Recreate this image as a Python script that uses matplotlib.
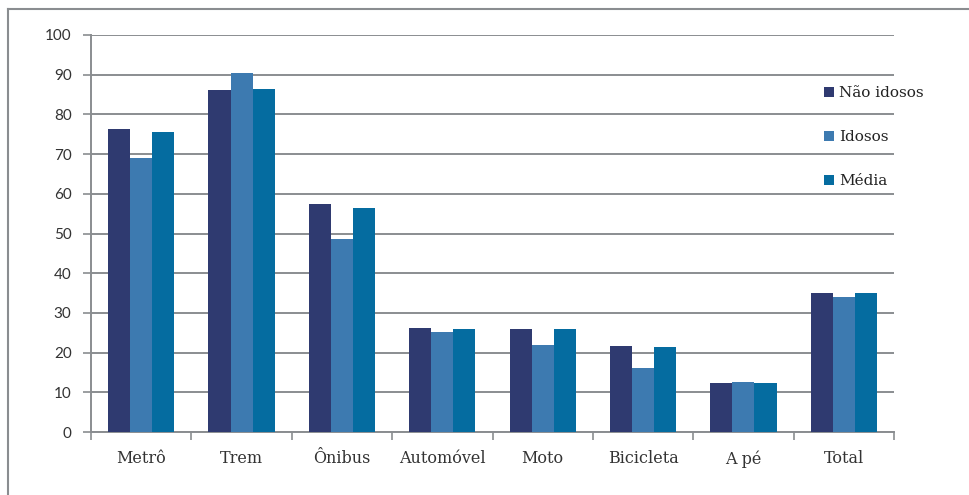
import numpy as np
import matplotlib.pyplot as plt
from matplotlib.lines import Line2D

categorias = ['Metrô', 'Trem', 'Ônibus', 'Automóvel', 'Moto', 'Bicicleta', 'A pé', 'Total']
nao_idosos = [76.4, 86.1, 57.4, 26.2, 25.9, 21.6, 12.3, 35.1]
idosos = [68.9, 90.4, 48.6, 25.2, 22.0, 16.0, 12.6, 33.9]
media = [75.6, 86.4, 56.3, 26.0, 25.9, 21.4, 12.3, 34.9]

series = ['Não idosos', 'Idosos', 'Média']
cores = ['#2f3a70', '#3d7ab0', '#056ca0']
cinza = '#8a8d90'

fig = plt.figure(figsize=(9.69, 4.95), dpi=100)
ax = fig.add_axes([91 / 969, 63 / 495, 803 / 969, 397 / 495])

x = np.arange(len(categorias))
w = 0.22
for i, (vals, nome, cor) in enumerate(zip([nao_idosos, idosos, media], series, cores)):
    ax.bar(x + (i - 1) * w, vals, width=w, color=cor, label=nome, zorder=3)

ax.set_xlim(-0.5, len(categorias) - 0.5)
ax.set_ylim(0, 100)
ax.set_yticks(np.arange(0, 101, 10))
ax.yaxis.grid(True, color=cinza, linewidth=1.4, zorder=0)
ax.set_axisbelow(True)

# category labels centred, tick marks on the boundaries
ax.set_xticks(x)
ax.set_xticklabels(categorias, family='DejaVu Serif', fontsize=11.5, color='#333333')
ax.tick_params(axis='x', length=0, pad=13)
ax.set_xticks(np.arange(-0.5, len(categorias)), minor=True)
ax.tick_params(axis='x', which='minor', length=6, width=1.2, color=cinza)
ax.tick_params(axis='y', length=6, width=1.2, color=cinza, labelsize=11,
               labelcolor='#333333', pad=8)
for lab in ax.get_yticklabels():
    lab.set_family('Lato')

for s in ['top', 'right']:
    ax.spines[s].set_visible(False)
for s in ['left', 'bottom']:
    ax.spines[s].set_color(cinza)
    ax.spines[s].set_linewidth(1.4)

leg = fig.legend(loc='upper left', bbox_to_anchor=(818 / 969, 1 - 80 / 495),
                 frameon=False, prop={'family': 'DejaVu Serif', 'size': 11},
                 handlelength=0.65, handleheight=0.65, handletextpad=0.35,
                 labelspacing=1.97, borderaxespad=0)
for t in leg.get_texts():
    t.set_color('#222222')

# outer frame around the figure
fig.add_artist(Line2D([8 / 969, 1], [1 - 9 / 495] * 2, color=cinza, lw=1.5))
fig.add_artist(Line2D([8 / 969] * 2, [0, 1 - 9 / 495], color=cinza, lw=1.5))

fig.savefig('out.png', dpi=100)
